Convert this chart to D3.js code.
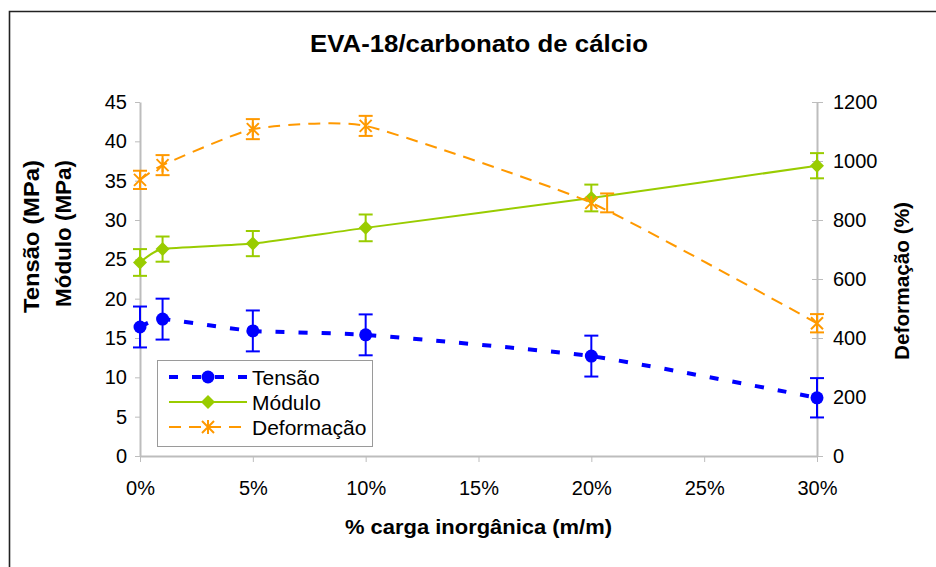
<!DOCTYPE html>
<html>
<head>
<meta charset="utf-8">
<script src="https://cdn.jsdelivr.net/npm/d3@7"></script>
<style>
  html, body { margin: 0; padding: 0; background: #fff; }
  svg { display: block; font-family: "Liberation Sans", Arial, sans-serif; }
</style>
</head>
<body>
<svg id="chart" width="936" height="567"></svg>
<script>
// ---------- data ----------
const loadings = [0, 1, 5, 10, 20, 30];              // % carga inorgânica
const tensao = [16.4, 17.4, 15.9, 15.4, 12.7, 7.4];  // MPa
const tensaoErr = [2.6, 2.6, 2.6, 2.6, 2.6, 2.5];
const modulo = [24.6, 26.3, 27.0, 29.0, 32.8, 36.9]; // MPa
const moduloErr = [1.7, 1.6, 1.6, 1.7, 1.7, 1.6];
const deformacao = [936, 986, 1108, 1119, 858, 450]; // %
const deformacaoErr = [31, 34, 34, 34, 32, 31];
const deformacaoErrX = [0, 1, 5, 10, 20.7, 30];
const xTicks = [0, 5, 10, 15, 20, 25, 30];
const leftTicks = [0, 5, 10, 15, 20, 25, 30, 35, 40, 45];
const rightTicks = [0, 200, 400, 600, 800, 1000, 1200];
const seriesNames = ["Tensão", "Módulo", "Deformação"];
const titleText = "EVA-18/carbonato de cálcio";
const xTitle = "% carga inorgânica (m/m)";
const yTitle1 = "Tensão (MPa)";
const yTitle2 = "Módulo (MPa)";
const y2Title = "Deformação (%)";

// ---------- setup ----------
const svg = d3.select("#chart");
const L = 140, R = 817, T = 102, B = 456;
const x = d3.scaleLinear().domain([0, 30]).range([L, R]);
const yL = d3.scaleLinear().domain([0, 45]).range([B, T]);
const yR = d3.scaleLinear().domain([0, 1200]).range([B, T]);

const BLUE = "#0000ff", GREEN = "#99cc00", ORANGE = "#ff9900", AXIS = "#bdbdbd";
const FONT = '"Liberation Sans", Arial, sans-serif';

// outer frame
svg.append("path").attr("d", `M9.5,567 V11.5 H936`).attr("fill", "none")
  .attr("stroke", "#222").attr("stroke-width", 1.6);

// title
svg.append("text").attr("x", 479).attr("y", 52).attr("text-anchor", "middle")
  .attr("font-size", 23).attr("font-weight", "bold")
  .attr("textLength", 338).attr("lengthAdjust", "spacingAndGlyphs").text(titleText);

// axes
function styleAxis(g) {
  g.select(".domain").attr("stroke", AXIS).attr("stroke-width", 2);
  g.selectAll(".tick line").attr("stroke", AXIS).attr("stroke-width", 1);
  g.selectAll(".tick text").attr("fill", "#000").attr("font-size", 20).attr("font-family", FONT);
}
const gx = svg.append("g").attr("transform", `translate(0,${B})`)
  .call(d3.axisBottom(x).tickValues(xTicks).tickFormat(d => d + "%").tickSize(6).tickSizeOuter(0).tickPadding(19));
styleAxis(gx);
const gl = svg.append("g").attr("transform", `translate(${L},0)`)
  .call(d3.axisLeft(yL).tickValues(leftTicks).tickFormat(d3.format("d")).tickSize(5).tickSizeOuter(0).tickPadding(8));
styleAxis(gl);
const gr = svg.append("g").attr("transform", `translate(${R},0)`)
  .call(d3.axisRight(yR).tickValues(rightTicks).tickFormat(d3.format("d")).tickSize(6).tickSizeOuter(0).tickPadding(10));
styleAxis(gr);
gr.selectAll(".tick line").attr("x1", -5);

// axis titles
svg.append("text").attr("x", 478.5).attr("y", 534).attr("text-anchor", "middle")
  .attr("font-size", 20).attr("font-weight", "bold")
  .attr("textLength", 267).attr("lengthAdjust", "spacingAndGlyphs").text(xTitle);
svg.append("text").attr("transform", "translate(39,236.5) rotate(-90)").attr("text-anchor", "middle")
  .attr("font-size", 22).attr("font-weight", "bold")
  .attr("textLength", 153).attr("lengthAdjust", "spacingAndGlyphs").text(yTitle1);
svg.append("text").attr("transform", "translate(71,233.5) rotate(-90)").attr("text-anchor", "middle")
  .attr("font-size", 22).attr("font-weight", "bold")
  .attr("textLength", 147).attr("lengthAdjust", "spacingAndGlyphs").text(yTitle2);
svg.append("text").attr("transform", "translate(909,281) rotate(-90)").attr("text-anchor", "middle")
  .attr("font-size", 21).attr("font-weight", "bold")
  .attr("textLength", 158).attr("lengthAdjust", "spacingAndGlyphs").text(y2Title);

// ---------- series ----------
const curve = d3.curveCardinal.tension(0.5);

function errorBars(xs, vals, errs, yScale, color, w) {
  const g = svg.append("g").attr("stroke", color).attr("stroke-width", w).attr("fill", "none");
  xs.forEach((xv, i) => {
    const cx = x(xv), y1 = yScale(vals[i] + errs[i]), y2 = yScale(vals[i] - errs[i]);
    g.append("line").attr("x1", cx).attr("x2", cx).attr("y1", y1).attr("y2", y2);
    g.append("line").attr("x1", cx - 7).attr("x2", cx + 7).attr("y1", y1).attr("y2", y1);
    g.append("line").attr("x1", cx - 7).attr("x2", cx + 7).attr("y1", y2).attr("y2", y2);
  });
}

function drawMarker(g, type, cx, cy) {
  if (type === "circle") {
    g.append("circle").attr("cx", cx).attr("cy", cy).attr("r", 6.5).attr("fill", BLUE);
  } else if (type === "diamond") {
    const s = 7;
    g.append("path").attr("d", `M${cx},${cy - s} L${cx + s},${cy} L${cx},${cy + s} L${cx - s},${cy} Z`).attr("fill", GREEN);
  } else {
    const s = 6;
    g.append("path").attr("d",
      `M${cx - s},${cy - s} L${cx + s},${cy + s} M${cx - s},${cy + s} L${cx + s},${cy - s} M${cx},${cy - s - 1} L${cx},${cy + s + 1}`)
      .attr("stroke", ORANGE).attr("stroke-width", 2).attr("fill", "none");
  }
}

// Tensão
errorBars(loadings, tensao, tensaoErr, yL, BLUE, 2);
svg.append("path").datum(loadings.map((d, i) => [x(d), yL(tensao[i])]))
  .attr("d", d3.line().curve(curve)).attr("fill", "none").attr("stroke", BLUE)
  .attr("stroke-width", 4).attr("stroke-dasharray", "9,14");
const gT = svg.append("g");
loadings.forEach((d, i) => drawMarker(gT, "circle", x(d), yL(tensao[i])));

// Módulo
errorBars(loadings, modulo, moduloErr, yL, GREEN, 2);
svg.append("path").datum(loadings.map((d, i) => [x(d), yL(modulo[i])]))
  .attr("d", d3.line().curve(curve)).attr("fill", "none").attr("stroke", GREEN)
  .attr("stroke-width", 2);
const gM = svg.append("g");
loadings.forEach((d, i) => drawMarker(gM, "diamond", x(d), yL(modulo[i])));

// Deformação
(function () {
  const g = svg.append("g").attr("stroke", ORANGE).attr("stroke-width", 2).attr("fill", "none");
  deformacaoErrX.forEach((xv, i) => {
    const cx = x(xv), y1 = yR(deformacao[i] + deformacaoErr[i]), y2 = yR(deformacao[i] - deformacaoErr[i]);
    g.append("line").attr("x1", cx).attr("x2", cx).attr("y1", y1).attr("y2", y2);
    g.append("line").attr("x1", cx - 7).attr("x2", cx + 7).attr("y1", y1).attr("y2", y1);
    g.append("line").attr("x1", cx - 7).attr("x2", cx + 7).attr("y1", y2).attr("y2", y2);
  });
})();
svg.append("path").datum(loadings.map((d, i) => [x(d), yR(deformacao[i])]))
  .attr("d", d3.line().curve(curve)).attr("fill", "none").attr("stroke", ORANGE)
  .attr("stroke-width", 2).attr("stroke-dasharray", "12,8");
const gD = svg.append("g");
loadings.forEach((d, i) => drawMarker(gD, "star", x(d), yR(deformacao[i])));

// ---------- legend ----------
const lg = svg.append("g");
lg.append("rect").attr("x", 157.5).attr("y", 360.5).attr("width", 215).attr("height", 86)
  .attr("fill", "#fff").attr("stroke", "#9a9a9a").attr("stroke-width", 1);
const legendStyles = [
  { color: BLUE, w: 4, dash: "9,14", marker: "circle" },
  { color: GREEN, w: 2, dash: null, marker: "diamond" },
  { color: ORANGE, w: 2, dash: "12,8", marker: "star" }
];
seriesNames.forEach((name, i) => {
  const cy = 377 + i * 25;
  const st = legendStyles[i];
  const ln = lg.append("line").attr("x1", 169).attr("x2", 247).attr("y1", cy).attr("y2", cy)
    .attr("stroke", st.color).attr("stroke-width", st.w);
  if (st.dash) ln.attr("stroke-dasharray", st.dash);
  drawMarker(lg, st.marker, 208, cy);
  lg.append("text").attr("x", 252).attr("y", cy + 7.5).attr("font-size", 21).text(name);
});
</script>
</body>
</html>
